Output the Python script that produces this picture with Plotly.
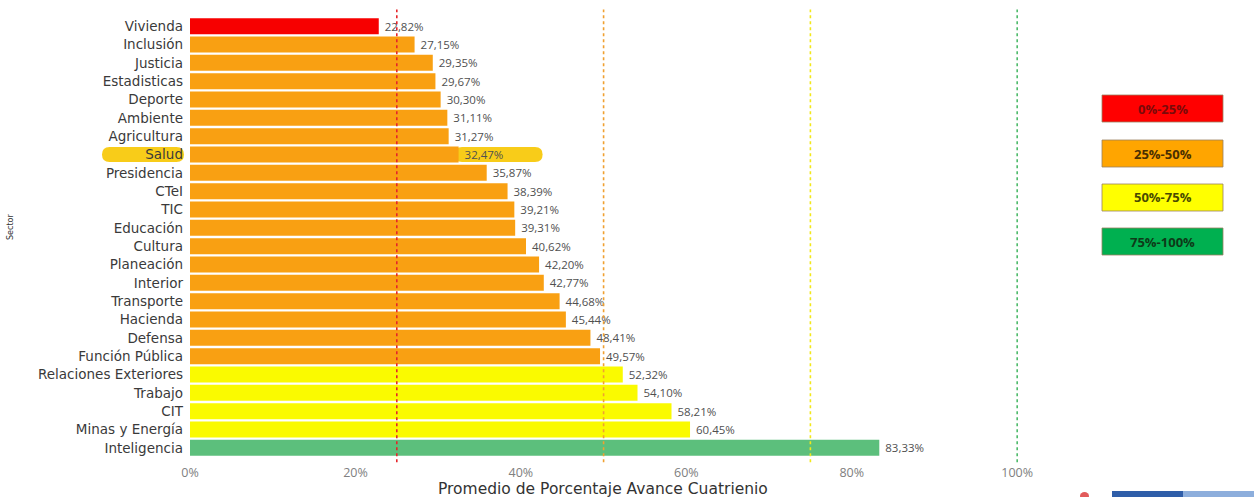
import plotly.graph_objects as go

# Average four-year progress by sector (percent)
sectores = [
    "Vivienda", "Inclusión", "Justicia", "Estadisticas", "Deporte", "Ambiente",
    "Agricultura", "Salud", "Presidencia", "CTeI", "TIC", "Educación", "Cultura",
    "Planeación", "Interior", "Transporte", "Hacienda", "Defensa", "Función Pública",
    "Relaciones Exteriores", "Trabajo", "CIT", "Minas y Energía", "Inteligencia",
]
avance = [
    22.82, 27.15, 29.35, 29.67, 30.30, 31.11, 31.27, 32.47, 35.87, 38.39, 39.21,
    39.31, 40.62, 42.20, 42.77, 44.68, 45.44, 48.41, 49.57, 52.32, 54.10, 58.21,
    60.45, 83.33,
]
ticks_x = [0, 20, 40, 60, 80, 100]

# Performance bands: upper limit, bar colour, reference-line colour, key box
limites = [25, 50, 75, 100]
colores_barra = ["#F70000", "#F9A012", "#FAFA00", "#5CBF7C"]
colores_linea = ["#E5252A", "#F0A030", "#F2E81A", "#4DBA6A"]
rangos = ["0%-25%", "25%-50%", "50%-75%", "75%-100%"]
colores_caja = ["#FF0000", "#FFA500", "#FFFF00", "#00B050"]
colores_texto_caja = ["#7A0A0A", "#4A2E00", "#4A4A00", "#0E3A18"]

destacado = "Salud"


def color_banda(v):
    for lim, c in zip(limites, colores_barra):
        if v < lim:
            return c
    return colores_barra[-1]


def pildora(x0, x1, h):
    """Rounded pill path (pixel units) from x0 to x1 with half-height h."""
    return (
        f"M{x0 + h},{-h} L{x1 - h},{-h} Q{x1},{-h} {x1},0 Q{x1},{h} {x1 - h},{h} "
        f"L{x0 + h},{h} Q{x0},{h} {x0},0 Q{x0},{-h} {x0 + h},{-h} Z"
    )


W, H = 1254, 497
M_L, M_R, M_T, M_B = 190, 212, 17, 40
plot_w = W - M_L - M_R
plot_h = H - M_T - M_B
n = len(sectores)


def px_x(p):
    return (p - M_L) / plot_w


def px_y(p):
    return (H - M_B - p) / plot_h


fig = go.Figure(
    go.Bar(
        x=avance,
        y=sectores,
        orientation="h",
        marker=dict(color=[color_banda(v) for v in avance], line=dict(width=0)),
        texttemplate="\u00a0%{x:.2f}%",
        textposition="outside",
        textfont=dict(family="Open Sans", size=11.5, color="#505050"),
        constraintext="none",
        cliponaxis=False,
        hoverinfo="skip",
    )
)

shapes = []

# Dotted band thresholds
for lim, c in zip(limites, colores_linea):
    shapes.append(dict(
        type="line", xref="x", yref="paper", x0=lim, x1=lim, y0=-0.012, y1=1.017,
        line=dict(color=c, width=1.6, dash="dot"), layer="above",
    ))

# Highlight behind the emphasised sector (label and value)
idx = sectores.index(destacado)
y_fila = 1 - (idx + 0.5) / n
shapes.append(dict(
    type="path", xref="paper", yref="paper", xsizemode="pixel", ysizemode="pixel",
    xanchor=0, yanchor=y_fila, path=pildora(-88, -6, 7.5),
    fillcolor="#F7C600", line=dict(width=0), opacity=0.9, layer="below",
))
shapes.append(dict(
    type="path", xref="x", yref="paper", xsizemode="pixel", ysizemode="pixel",
    xanchor=avance[idx], yanchor=y_fila, path=pildora(-4, 84, 7.5),
    fillcolor="#F7C600", line=dict(width=0), opacity=0.9, layer="below",
))

annotations = []

# Colour key boxes on the right
caja_x0, caja_x1 = px_x(1102), px_x(1223)
caja_top = [95, 140, 184, 228]
for top, etiqueta, fc, tc in zip(caja_top, rangos, colores_caja, colores_texto_caja):
    y1 = px_y(top)
    y0 = px_y(top + 27)
    shapes.append(dict(
        type="rect", xref="paper", yref="paper", x0=caja_x0, x1=caja_x1, y0=y0, y1=y1,
        fillcolor=fc, line=dict(color="#9a8060", width=0.8), layer="above",
    ))
    annotations.append(dict(
        xref="paper", yref="paper", x=(caja_x0 + caja_x1) / 2, y=(y0 + y1) / 2,
        xanchor="center", yanchor="middle",
        text=f"<b>{etiqueta}</b>", showarrow=False,
        font=dict(family="Open Sans", size=13, color=tc),
    ))

# Window strip at the bottom-right corner
for x0p, x1p, c in [(1112, 1183, "#2F5EA9"), (1183, 1254, "#8DAEDC")]:
    shapes.append(dict(
        type="rect", xref="paper", yref="paper",
        x0=px_x(x0p), x1=px_x(x1p), y0=px_y(497), y1=px_y(491),
        fillcolor=c, line=dict(width=0), layer="above",
    ))
shapes.append(dict(
    type="circle", xref="paper", yref="paper",
    x0=px_x(1080), x1=px_x(1089), y0=px_y(500), y1=px_y(492),
    fillcolor="#E25A5A", line=dict(width=0), layer="above",
))

# Axis titles
annotations.append(dict(
    xref="paper", yref="paper", x=px_x(603), y=px_y(489),
    xanchor="center", yanchor="middle",
    text="Promedio de Porcentaje Avance Cuatrienio", showarrow=False,
    font=dict(family="DejaVu Sans", size=15.5, color="#333333"),
))
annotations.append(dict(
    xref="paper", yref="paper", x=px_x(10), y=px_y(227),
    xanchor="center", yanchor="middle",
    text="Sector", textangle=-90, showarrow=False,
    font=dict(family="DejaVu Sans", size=8, color="#333333"),
))

fig.update_layout(
    width=W, height=H,
    margin=dict(l=M_L, r=M_R, t=M_T, b=M_B, pad=0),
    paper_bgcolor="white", plot_bgcolor="white",
    separators=",.",
    bargap=0.13,
    showlegend=False,
    shapes=shapes,
    annotations=annotations,
    xaxis=dict(
        range=[0, 103], tickvals=ticks_x, ticktext=[f"{v}%" for v in ticks_x],
        showgrid=False, zeroline=False, showline=False,
        tickfont=dict(family="Open Sans", size=12.5, color="#808080"),
        ticks="", ticklabelstandoff=6,
    ),
    yaxis=dict(
        autorange="reversed", showgrid=False, zeroline=False, showline=False,
        tickfont=dict(family="DejaVu Sans", size=13.5, color="#3a3a3a"),
        ticks="", ticklabelstandoff=6,
    ),
)

fig.write_html("out.html")
